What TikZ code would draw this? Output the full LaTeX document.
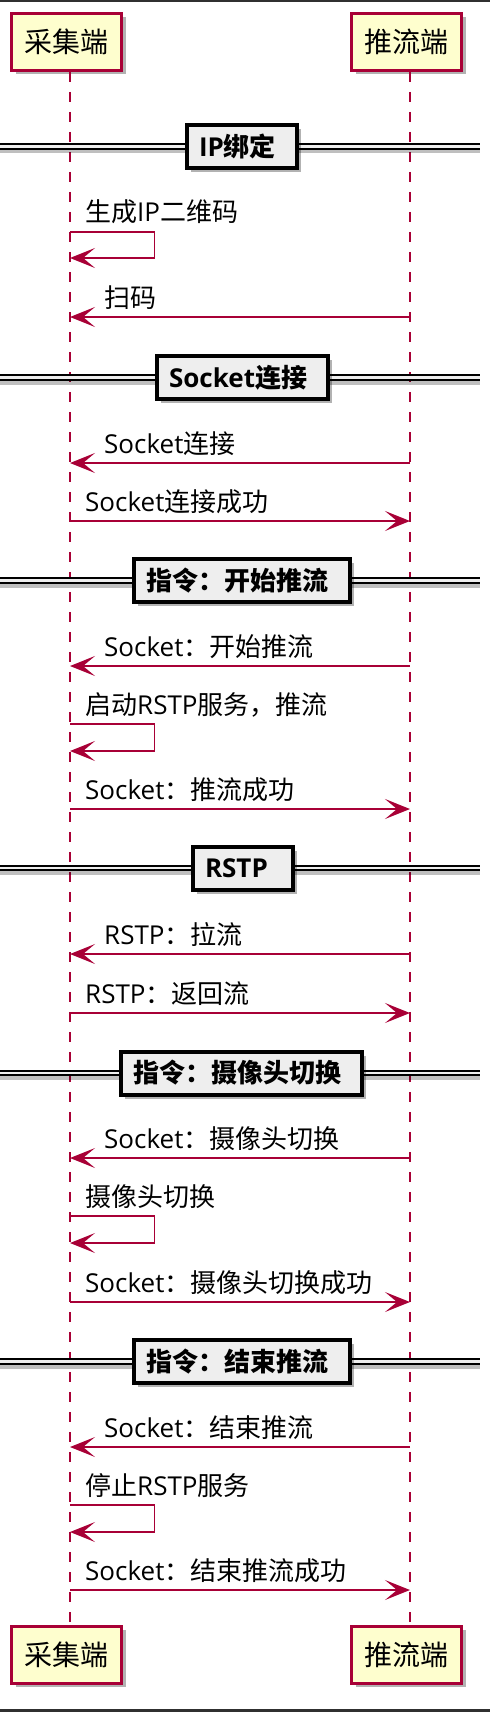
\documentclass[tikz,border=0pt]{standalone}
\usepackage{fontspec}
\setmainfont{Noto Sans CJK SC}
\newfontfamily\latinfont{Open Sans}
\newcommand\lat[1]{{\latinfont #1}}
\usetikzlibrary{arrows.meta,shadows}

\definecolor{umlred}{HTML}{A80036}
\definecolor{umlfill}{HTML}{FEFECE}
\definecolor{sepfill}{HTML}{EEEEEE}
\definecolor{framebar}{HTML}{303030}

\begin{document}
\begin{tikzpicture}[x=1pt,y=-1pt,>={Stealth[length=25pt,width=20pt,inset=12pt]}]
        \tikzstyle{actor}=[draw=umlred, line width=3pt, fill=umlfill, minimum width=110pt, minimum height=57pt, inner sep=0pt, font=\fontsize{28}{32}\selectfont, drop shadow={shadow xshift=4pt, shadow yshift=-4pt, fill=black, opacity=0.3}]
        \tikzstyle{life}=[draw=umlred, line width=1.5pt, dash pattern=on 10pt off 10pt]
        \tikzstyle{msg}=[->, draw=umlred, line width=1.5pt]
        \tikzstyle{lbl}=[anchor=base west, inner sep=0pt, font=\fontsize{26}{30}\selectfont]
        \tikzstyle{sepbox}=[draw=black, line width=4pt, fill=sepfill, anchor=west, align=left, minimum height=43pt, inner xsep=12pt, inner ysep=0pt, font=\bfseries\fontsize{26}{30}\selectfont, drop shadow={shadow xshift=4pt, shadow yshift=-4pt, fill=black, opacity=0.3}]
        \tikzstyle{sepline}=[draw=black, line width=2pt, double=sepfill, double distance=2.5pt]
        \tikzstyle{sepshade}=[draw=black, opacity=0.25, line width=5pt]

        \useasboundingbox (0,0) rectangle (490,1712);
        \fill[framebar] (0,0) rectangle (490,2.5);
        \fill[framebar] (0,1709) rectangle (490,1712);

        % participants
        \node[actor] (caiji)   at (66.5,42)     {采集端};
        \node[actor] (tuiliu)  at (406.5,42)    {推流端};
        \node[actor] (caijiB)  at (66.5,1654.5) {采集端};
        \node[actor] (tuiliuB) at (406.5,1654.5){推流端};

        \draw[life] ([xshift=3.5pt]caiji.south)  -- ([xshift=3.5pt]caijiB.north);
        \draw[life] ([xshift=3.5pt]tuiliu.south) -- ([xshift=3.5pt]tuiliuB.north);

        % IP绑定
        \draw[sepshade] (0,151) -- (480,151);
        \draw[sepline]  (0,146.5) -- (480,146.5);
        \node[sepbox, text width=86pt] (sep1) at (185,146.5) {\lat{IP}绑定};

        \coordinate (s1) at (70,232); \coordinate (s1e) at (70,258);
        \draw[msg] (s1) -- ++(84.5,0) |- (s1e);
        \node[lbl] (t1) at ([xshift=15pt,yshift=10pt]s1) {生成\lat{IP}二维码};

        \coordinate (a2) at (70,317); \coordinate (b2) at (410,317);
        \draw[msg] (b2) -- (a2);
        \node[lbl] (t2) at ([xshift=34pt,yshift=10pt]a2) {扫码};

        % Socket连接
        \draw[sepshade] (0,382) -- (480,382);
        \draw[sepline]  (0,377.5) -- (480,377.5);
        \node[sepbox, text width=147pt] (sep2) at (155,377.5) {\lat{Socket}连接};

        \coordinate (a3) at (70,463); \coordinate (b3) at (410,463);
        \draw[msg] (b3) -- (a3);
        \node[lbl] (t3) at ([xshift=34pt,yshift=10pt]a3) {\lat{Socket}连接};

        \coordinate (a4) at (70,521); \coordinate (b4) at (410,521);
        \draw[msg] (a4) -- (b4);
        \node[lbl] (t4) at ([xshift=15pt,yshift=10pt]a4) {\lat{Socket}连接成功};

        % 指令：开始推流
        \draw[sepshade] (0,585) -- (480,585);
        \draw[sepline]  (0,580.5) -- (480,580.5);
        \node[sepbox, text width=192pt] (sep3) at (132,580.5) {指令：开始推流};

        \coordinate (a5) at (70,666); \coordinate (b5) at (410,666);
        \draw[msg] (b5) -- (a5);
        \node[lbl] (t5) at ([xshift=34pt,yshift=10pt]a5) {\lat{Socket}：开始推流};

        \coordinate (s6) at (70,724); \coordinate (s6e) at (70,751);
        \draw[msg] (s6) -- ++(84.5,0) |- (s6e);
        \node[lbl] (t6) at ([xshift=15pt,yshift=10pt]s6) {启动\lat{RSTP}服务，推流};

        \coordinate (a7) at (70,809); \coordinate (b7) at (410,809);
        \draw[msg] (a7) -- (b7);
        \node[lbl] (t7) at ([xshift=15pt,yshift=10pt]a7) {\lat{Socket}：推流成功};

        % RSTP
        \draw[sepshade] (0,872.5) -- (480,872.5);
        \draw[sepline]  (0,868) -- (480,868);
        \node[sepbox, text width=76pt] (sep4) at (191,868) {\lat{RSTP}};

        \coordinate (a8) at (70,954); \coordinate (b8) at (410,954);
        \draw[msg] (b8) -- (a8);
        \node[lbl] (t8) at ([xshift=34pt,yshift=10pt]a8) {\lat{RSTP}：拉流};

        \coordinate (a9) at (70,1013); \coordinate (b9) at (410,1013);
        \draw[msg] (a9) -- (b9);
        \node[lbl] (t9) at ([xshift=15pt,yshift=10pt]a9) {\lat{RSTP}：返回流};

        % 指令：摄像头切换
        \draw[sepshade] (0,1077.5) -- (480,1077.5);
        \draw[sepline]  (0,1073) -- (480,1073);
        \node[sepbox, text width=217pt] (sep5) at (119,1073) {指令：摄像头切换};

        \coordinate (a10) at (70,1158); \coordinate (b10) at (410,1158);
        \draw[msg] (b10) -- (a10);
        \node[lbl] (t10) at ([xshift=34pt,yshift=10pt]a10) {\lat{Socket}：摄像头切换};

        \coordinate (s11) at (70,1216); \coordinate (s11e) at (70,1243);
        \draw[msg] (s11) -- ++(84.5,0) |- (s11e);
        \node[lbl] (t11) at ([xshift=15pt,yshift=10pt]s11) {摄像头切换};

        \coordinate (a12) at (70,1302); \coordinate (b12) at (410,1302);
        \draw[msg] (a12) -- (b12);
        \node[lbl] (t12) at ([xshift=15pt,yshift=10pt]a12) {\lat{Socket}：摄像头切换成功};

        % 指令：结束推流
        \draw[sepshade] (0,1366) -- (480,1366);
        \draw[sepline]  (0,1361.5) -- (480,1361.5);
        \node[sepbox, text width=192pt] (sep6) at (132,1361.5) {指令：结束推流};

        \coordinate (a13) at (70,1447); \coordinate (b13) at (410,1447);
        \draw[msg] (b13) -- (a13);
        \node[lbl] (t13) at ([xshift=34pt,yshift=10pt]a13) {\lat{Socket}：结束推流};

        \coordinate (s14) at (70,1505); \coordinate (s14e) at (70,1532);
        \draw[msg] (s14) -- ++(84.5,0) |- (s14e);
        \node[lbl] (t14) at ([xshift=15pt,yshift=10pt]s14) {停止\lat{RSTP}服务};

        \coordinate (a15) at (70,1590); \coordinate (b15) at (410,1590);
        \draw[msg] (a15) -- (b15);
        \node[lbl] (t15) at ([xshift=15pt,yshift=10pt]a15) {\lat{Socket}：结束推流成功};
\end{tikzpicture}
\end{document}
